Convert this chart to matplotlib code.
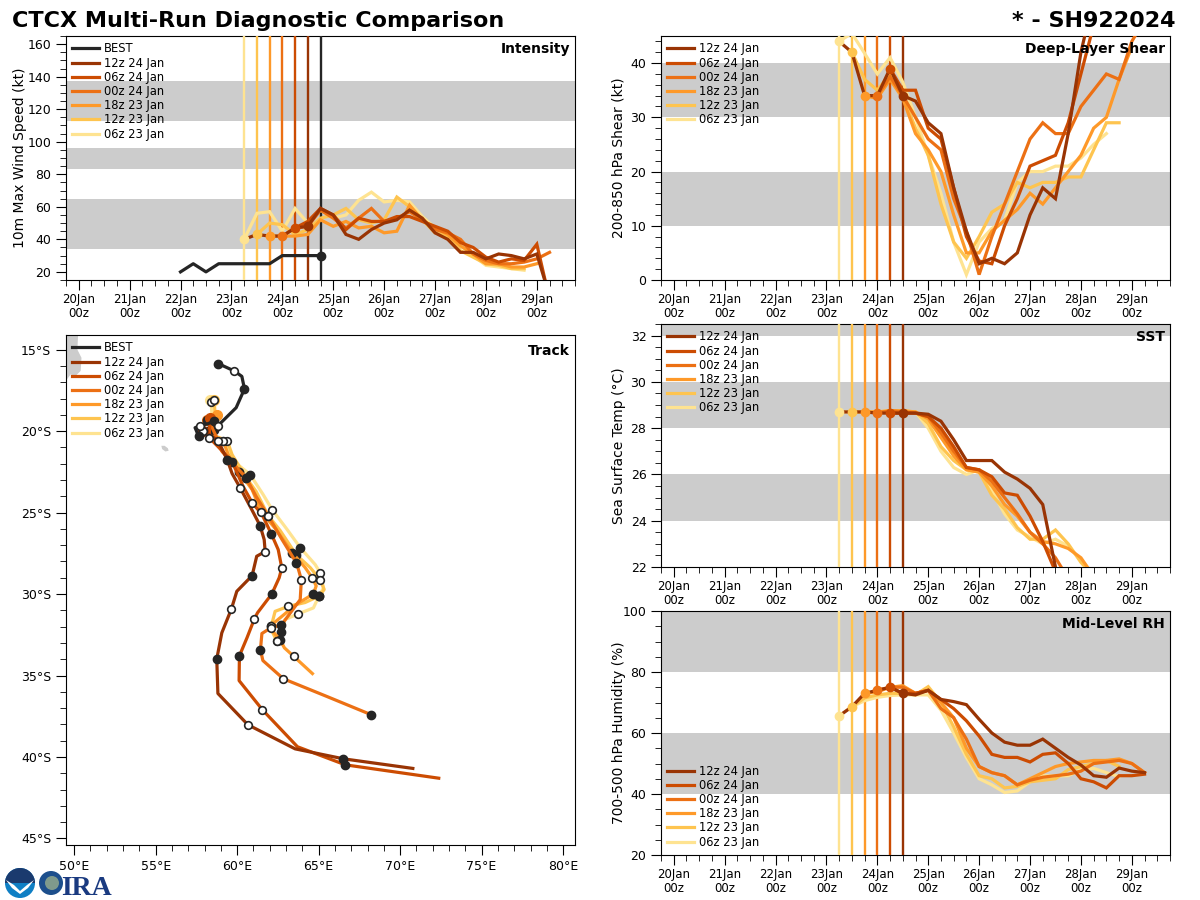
import matplotlib
matplotlib.use("Agg")
import matplotlib.pyplot as plt
from matplotlib.patches import Circle, Wedge, Polygon
from matplotlib.ticker import MultipleLocator, FuncFormatter

RUNS = ["12z 24 Jan", "06z 24 Jan", "00z 24 Jan", "18z 23 Jan", "12z 23 Jan", "06z 23 Jan"]
COLORS = ["#993404", "#cc4c02", "#ec7014", "#fe9929", "#fec44f", "#fee391"]
STARTS = [4.5, 4.25, 4.0, 3.75, 3.5, 3.25]
DAYS = ["20Jan", "21Jan", "22Jan", "23Jan", "24Jan", "25Jan", "26Jan", "27Jan", "28Jan", "29Jan"]

BEST_WIND = [20, 25, 20, 25, 25, 25, 25, 25, 30, 30, 30, 30]
BEST_T0 = 2.0

# history of the newest run before its own start (06z 23 Jan onward)
WIND_HIST = [40, 43, 42, 42, 47]
SHEAR_HIST = [44, 42, 34, 34, 39]
SST_HIST = [28.7, 28.7, 28.7, 28.65, 28.65]
RH_HIST = [65.6, 68.6, 73, 74, 75]

WIND_12Z24 = [48, 59, 55, 43, 40, 46, 50, 52, 58, 53, 44, 40, 32, 32, 28, 31, 30, 28, 31, 5]
WIND_06Z24 = [47, 51, 59, 55, 46, 53, 51, 51, 54, 54, 51, 48, 45, 38, 35, 29, 26, 28, 27, 37, 3]
WIND_00Z24 = [42, 47, 48, 58, 53, 47, 53, 59, 51, 53, 57, 52, 46, 44, 40, 31, 27, 25, 25, 26, 28, 32]
WIND_18Z23 = [42, 42, 42, 43, 52, 48, 51, 47, 48, 44, 45, 61, 52, 47, 43, 36, 31, 25, 25, 23, 23, 25]
WIND_12Z23 = [43, 50, 49, 43, 46, 53, 55, 59, 52, 50, 52, 66, 60, 52, 44, 42, 33, 29, 25, 24, 22, 22]
WIND_06Z23 = [40, 56, 57, 45, 59, 50, 58, 53, 55, 64, 69, 63, 64, 63, 54, 47, 42, 36, 30, 24, 23, 22, 21]

SHEAR_12Z24 = [34, 33, 29, 27, 17, 9, 3, 4, 3, 5, 12, 17, 15, 27, 42, 52]
SHEAR_06Z24 = [39, 35, 35, 28, 26, 17, 8, 3.5, 3, 10, 15, 21, 22, 23, 29, 38, 47]
SHEAR_00Z24 = [34, 37.5, 34, 30, 26, 24, 15, 9, 1, 8, 14, 20, 26, 29, 27, 27, 32, 35, 38, 37, 44, 48]
SHEAR_18Z23 = [34, 33.5, 37, 33.5, 27, 24, 20, 12, 5, 5, 9, 11, 13, 16, 14, 17, 20, 23, 28, 30, 37, 43]
SHEAR_12Z23 = [42, 37, 35, 38, 34, 28, 23, 14, 7, 4, 8, 12.5, 14, 18, 17, 18, 18, 19, 19, 24, 29, 29]
SHEAR_06Z23 = [44, 45.5, 41.8, 38, 41, 36.5, 30, 23, 16, 7, 1, 7, 9.5, 11, 18, 20, 20, 21, 21, 22.5, 25, 27]

SST_12Z24 = [28.65, 28.65, 28.6, 28.3, 27.5, 26.6, 26.6, 26.6, 26.1, 25.8, 25.4, 24.7, 22.0, 19]
SST_06Z24 = [28.65, 28.65, 28.65, 28.5, 28.0, 27.2, 26.3, 26.2, 25.9, 25.2, 25.1, 24.2, 23.1, 21.8]
SST_00Z24 = [28.65, 28.75, 28.7, 28.65, 28.5, 27.8, 27.0, 26.3, 26.2, 25.7, 25.0, 24.3, 23.5, 23.0, 22.4, 21.5]
SST_18Z23 = [28.7, 28.7, 28.75, 28.75, 28.7, 28.4, 27.6, 26.8, 26.2, 26.1, 25.5, 24.7, 24.2, 23.5, 23.1, 23.0, 22.8, 22.4, 21.6]
SST_12Z23 = [28.7, 28.7, 28.7, 28.75, 28.75, 28.7, 28.2, 27.2, 26.6, 26.2, 26.1, 25.1, 24.5, 23.7, 23.2, 23.2, 23.6, 23.0, 22.2, 21.6]
SST_06Z23 = [28.7, 28.7, 28.7, 28.7, 28.75, 28.75, 28.7, 28.0, 27.0, 26.3, 26.0, 26.2, 25.3, 24.3, 23.6, 23.3, 23.0, 23.2, 22.9, 22.3, 21.7]

RH_12Z24 = [73, 72.5, 74, 71, 70.3, 69.3, 64.5, 60, 57, 56, 56, 58, 55, 52, 49.5, 46, 45.5, 48.5, 47.5, 47]
RH_06Z24 = [75, 73, 73, 74, 71, 68, 64, 59, 53, 52, 52, 50.5, 53, 53.5, 50, 45, 44, 42, 46, 46, 46.5]
RH_00Z24 = [74, 75, 75, 73, 74, 68, 65, 58, 49, 47, 46, 43, 44.5, 45.5, 46, 46.5, 47.5, 50, 50.5, 51, 50, 47]
RH_18Z23 = [73, 73.5, 75, 75.5, 73, 74, 70, 65, 55, 49, 47, 46, 43, 45, 47, 49, 50, 50.5, 51, 51, 51.5, 50, 47]
RH_12Z23 = [68.6, 71.5, 72.5, 73, 73, 72.5, 75.2, 70, 62, 53, 46, 45, 42, 42.5, 44, 44.5, 45, 48, 49, 50, 51, 49]
RH_06Z23 = [65.6, 68.6, 70.6, 71.7, 72.3, 72.5, 72.5, 72.5, 67.5, 60, 52, 45, 43, 40.5, 41, 44, 46, 45.9, 46, 48, 48.4, 47, 45.7]

BEST_LON = [57.63, 57.42, 57.75, 58.22, 58.55, 58.71, 58.83, 59.94, 60.45, 60.29, 59.83, 58.85]
BEST_LAT = [-20.29, -19.79, -19.66, -19.54, -19.4, -19.54, -19.66, -18.56, -17.41, -16.64, -16.31, -15.86]

LON_12Z24 = [57.91, 58.83, 59.39, 59.69, 60.18, 60.80, 61.41, 61.66, 61.72, 61.2, 60.92, 59.98, 59.65, 59.06, 58.75, 58.82, 60.66, 63.56, 66.52, 70.78]
LAT_12Z24 = [-19.97, -20.58, -21.75, -22.6, -23.47, -24.63, -25.8, -26.66, -27.39, -27.68, -28.87, -29.83, -30.91, -32.38, -33.98, -36.1, -38.02, -39.5, -40.11, -40.7]
LON_06Z24 = [58.34, 58.28, 58.83, 59.69, 60.37, 60.92, 61.53, 62.09, 62.52, 62.74, 62.58, 62.13, 61.25, 61.06, 60.61, 60.14, 60.12, 61.55, 63.7, 66.64, 72.37]
LAT_06Z24 = [-19.17, -20.4, -20.95, -21.87, -23.4, -24.39, -25.12, -26.29, -27.27, -28.39, -29.0, -29.99, -31.15, -31.52, -32.67, -33.79, -35.31, -37.1, -39.37, -40.48, -41.3]
LON_00Z24 = [58.14, 58.47, 58.83, 59.08, 60.55, 61.17, 61.9, 62.76, 63.64, 63.8, 63.94, 63.87, 62.72, 62.33, 62.07, 61.52, 61.43, 61.58, 62.84, 65.52, 68.24]
LAT_00Z24 = [-19.29, -19.79, -20.58, -21.26, -22.85, -24.02, -25.18, -26.66, -28.09, -28.62, -29.13, -30.34, -31.89, -31.99, -32.07, -32.42, -33.42, -34.08, -35.2, -36.29, -37.41]
LON_18Z23 = [58.75, 58.59, 58.4, 59.14, 59.45, 60.12, 60.92, 61.47, 62.39, 63.37, 64.17, 64.61, 64.85, 64.68, 63.62, 62.07, 62.2, 62.65, 62.9, 63.47, 64.62]
LAT_18Z23 = [-18.99, -19.91, -20.28, -20.58, -21.44, -22.48, -23.59, -24.94, -26.04, -27.45, -28.37, -29.0, -29.5, -29.99, -30.64, -31.93, -32.3, -32.83, -33.3, -33.82, -34.88]
LON_12Z23 = [58.59, 58.65, 58.59, 58.59, 59.39, 59.69, 60.55, 61.17, 61.9, 62.64, 63.62, 64.48, 65.11, 65.34, 65.05, 64.17, 63.15, 62.33, 62.09, 62.2, 62.43]
LAT_12Z23 = [-18.07, -18.99, -19.79, -20.28, -20.58, -21.44, -22.85, -23.71, -25.18, -26.1, -27.58, -28.37, -29.13, -29.72, -30.11, -30.52, -30.75, -31.06, -31.99, -32.4, -32.87]
LON_06Z23 = [58.34, 58.4, 58.47, 58.34, 58.71, 59.14, 59.82, 60.8, 61.6, 62.15, 63.07, 63.87, 64.79, 65.09, 65.3, 65.03, 64.68, 63.76, 62.94, 62.7, 62.55, 62.43]
LAT_06Z23 = [-18.07, -18.19, -19.17, -19.9, -20.4, -20.58, -21.87, -22.67, -23.9, -24.82, -26.04, -27.15, -28.19, -28.68, -29.62, -30.1, -30.85, -31.21, -31.56, -32.3, -32.6, -32.87]

LAND_NORTH_LON = [49.5, 50.24, 50.2, 50.45, 50.4, 50.0, 49.8, 49.5]
LAND_NORTH_LAT = [-14.1, -14.1, -15.0, -15.5, -16.3, -16.7, -16.5, -16.9]
LAND_ISLAND_LON = [55.35, 55.55, 55.75, 55.8, 55.6, 55.4]
LAND_ISLAND_LAT = [-20.9, -20.9, -21.05, -21.2, -21.25, -21.1]

DARK = "#252525"
W, H = 1200.0, 900.0
fig = plt.figure(figsize=(12, 9), dpi=100)
LEG = dict(frameon=False, fontsize=8.3, handlelength=2.3, labelspacing=0.105, borderpad=0.3,
           handletextpad=0.45, borderaxespad=0.25)


def box(l, t, r, b):
    return [l / W, 1 - b / H, (r - l) / W, (b - t) / H]


def time_axis(ax):
    ax.set_xlim(-0.25, 9.75)
    ax.xaxis.set_minor_locator(MultipleLocator(0.25))
    ax.set_xticks(range(10))
    ax.set_xticklabels([d + "\n00z" for d in DAYS], linespacing=1.05)
    ax.tick_params(axis="x", which="major", length=7, labelsize=8.5, pad=2.5)
    ax.tick_params(axis="x", which="minor", length=4)
    ax.tick_params(axis="y", which="major", length=7, labelsize=9)
    ax.tick_params(axis="y", which="minor", length=4)


def shade(ax, bands):
    for lo, hi in bands:
        ax.axhspan(lo, hi, color="#cccccc", lw=0, zorder=0)


def panel(bx, series, hist, ylim, bands, major, minor, ylabel, title, legend_loc, label_x, best=False):
    ax = fig.add_axes(box(*bx))
    shade(ax, bands)
    time_axis(ax)
    handles = []
    if best:
        h, = ax.plot([BEST_T0 + 0.25 * i for i in range(len(BEST_WIND))], BEST_WIND,
                     color=DARK, lw=2.3, label="BEST", zorder=4)
        handles.append(h)
        ax.axvline(BEST_T0 + 0.25 * (len(BEST_WIND) - 1), color=DARK, lw=1.7, zorder=4)
        ax.plot(BEST_T0 + 0.25 * (len(BEST_WIND) - 1), BEST_WIND[-1], "o", color=DARK, ms=6, zorder=9)
    for k in range(5, -1, -1):
        t0 = STARTS[k]
        y = series[k]
        ax.axvline(t0, color=COLORS[k], lw=1.7, zorder=3)
        ts = [t0 + 0.25 * i for i in range(len(y))]
        if k == 0:
            ts = [t0 - 0.25 * (len(hist) - i) for i in range(len(hist))] + ts
            y = list(hist) + list(y)
        ax.plot(ts, y, color=COLORS[k], lw=2.3, zorder=5 + (5 - k) * 0.1 + 0.1,
                solid_joinstyle="miter")
        ax.plot(t0, series[k][0], "o", color=COLORS[k], ms=6, zorder=8 + (5 - k) * 0.1)
    for k in range(6):
        h, = ax.plot([], [], color=COLORS[k], lw=2.3, label=RUNS[k])
        handles.append(h)
    ax.legend(handles=handles, loc=legend_loc, **LEG)
    ax.set_ylim(*ylim)
    ax.yaxis.set_major_locator(MultipleLocator(major))
    ax.yaxis.set_minor_locator(MultipleLocator(minor))
    ax.set_ylabel(ylabel, fontsize=10)
    ax.yaxis.set_label_coords(label_x, 0.5)
    ax.text(0.99, 0.975, title, transform=ax.transAxes, ha="right", va="top",
            fontsize=10, fontweight="bold", zorder=20)
    return ax


panel((66, 36, 575, 280),
      [WIND_12Z24, WIND_06Z24, WIND_00Z24, WIND_18Z23, WIND_12Z23, WIND_06Z23], WIND_HIST,
      (15, 165), [(34, 65), (83, 96), (113, 137.5)], 20, 5,
      "10m Max Wind Speed (kt)", "Intensity", "upper left", -0.076, best=True)
panel((661, 36, 1170, 280),
      [SHEAR_12Z24, SHEAR_06Z24, SHEAR_00Z24, SHEAR_18Z23, SHEAR_12Z23, SHEAR_06Z23], SHEAR_HIST,
      (0, 45), [(10, 20), (30, 40)], 10, 2,
      "200-850 hPa Shear (kt)", "Deep-Layer Shear", "upper left", -0.0688)
panel((661, 324, 1170, 567),
      [SST_12Z24, SST_06Z24, SST_00Z24, SST_18Z23, SST_12Z23, SST_06Z23], SST_HIST,
      (22, 32.5), [(24, 26), (28, 30), (32, 33)], 2, 0.5,
      "Sea Surface Temp (\u00b0C)", "SST", "upper left", -0.0688)
panel((661, 611, 1170, 855),
      [RH_12Z24, RH_06Z24, RH_00Z24, RH_18Z23, RH_12Z23, RH_06Z23], RH_HIST,
      (20, 100), [(40, 60), (80, 100)], 20, 5,
      "700-500 hPa Humidity (%)", "Mid-Level RH", "lower left", -0.0688)

# Track panel
ax = fig.add_axes(box(66, 335, 575, 845))
ax.set_xlim(49.5, 80.73)
ax.set_ylim(-45.4, -14.1)
ax.fill(LAND_NORTH_LON, LAND_NORTH_LAT, color="#cccccc", lw=0, zorder=1)
ax.fill(LAND_ISLAND_LON, LAND_ISLAND_LAT, color="#cccccc", lw=0, zorder=1)
ax.xaxis.set_major_locator(MultipleLocator(5))
ax.xaxis.set_minor_locator(MultipleLocator(1))
ax.yaxis.set_major_locator(MultipleLocator(5))
ax.yaxis.set_minor_locator(MultipleLocator(1))
ax.xaxis.set_major_formatter(FuncFormatter(lambda v, p: f"{int(v)}\u00b0E"))
ax.yaxis.set_major_formatter(FuncFormatter(lambda v, p: f"{int(abs(v))}\u00b0S"))
ax.tick_params(which="major", length=7, labelsize=9)
ax.tick_params(which="minor", length=4)


def marks(axx, lon, lat, t0, z):
    for i, (x, y) in enumerate(zip(lon, lat)):
        t = t0 + 0.25 * i
        if t % 1 == 0:
            axx.plot(x, y, "o", mfc=DARK, mec=DARK, ms=6, mew=1, zorder=z)
        elif t % 1 == 0.5:
            axx.plot(x, y, "o", mfc="white", mec=DARK, ms=5.5, mew=1.2, zorder=z + 1)


TRACKS = [(LON_12Z24, LAT_12Z24), (LON_06Z24, LAT_06Z24), (LON_00Z24, LAT_00Z24),
          (LON_18Z23, LAT_18Z23), (LON_12Z23, LAT_12Z23), (LON_06Z23, LAT_06Z23)]
for k in range(6):
    lon, lat = TRACKS[k]
    z = 3 + (5 - k) * 0.2
    ax.plot(lon, lat, color=COLORS[k], lw=2.3, zorder=z)
    ax.plot(lon[0], lat[0], "o", color=COLORS[k], ms=7, zorder=z + 0.05)
    marks(ax, lon, lat, STARTS[k], z + 0.1)
ax.plot(BEST_LON, BEST_LAT, color=DARK, lw=2.3, zorder=5)
marks(ax, BEST_LON[:-1], BEST_LAT[:-1], BEST_T0, 6.5)
ax.plot(BEST_LON[-1], BEST_LAT[-1], "o", color=DARK, ms=6, zorder=6.5)
handles = [plt.Line2D([], [], color=DARK, lw=2.3, label="BEST")] + \
          [plt.Line2D([], [], color=COLORS[k], lw=2.3, label=RUNS[k]) for k in range(6)]
ax.legend(handles=handles, loc="upper left", **LEG)
ax.text(0.99, 0.983, "Track", transform=ax.transAxes, ha="right", va="top",
        fontsize=10, fontweight="bold", zorder=20)

fig.text(12 / W, 1 - 27 / H, "CTCX Multi-Run Diagnostic Comparison", fontsize=16, fontweight="bold",
         ha="left", va="baseline")
fig.text(1176 / W, 1 - 27 / H, "* - SH922024", fontsize=16, fontweight="bold",
         ha="right", va="baseline")

# Logos
lg = fig.add_axes([0, 0, 120 / W, 50 / H])
lg.set_xlim(0, 120)
lg.set_ylim(50, 0)
lg.axis("off")
lg.add_patch(Circle((20, 33), 15, color="#0f7fc4", lw=0))
lg.add_patch(Wedge((20, 33), 15, 180, 360, color="#1a3a6e", lw=0))
lg.add_patch(Polygon([[6, 30], [14, 35], [20, 41], [27, 35], [34, 30], [28, 38], [20, 44], [12, 38]],
                     color="white", lw=0))
lg.add_patch(Circle((51, 33), 12, color="#1d4f8c", lw=0))
lg.add_patch(Circle((52, 33), 7, color="#7f9a8c", lw=0))
lg.text(61, 45, "IRA", fontsize=20, fontweight="bold", family="Liberation Serif", color="#1a3a80",
        va="baseline", ha="left")

fig.savefig("out.png", dpi=100)
